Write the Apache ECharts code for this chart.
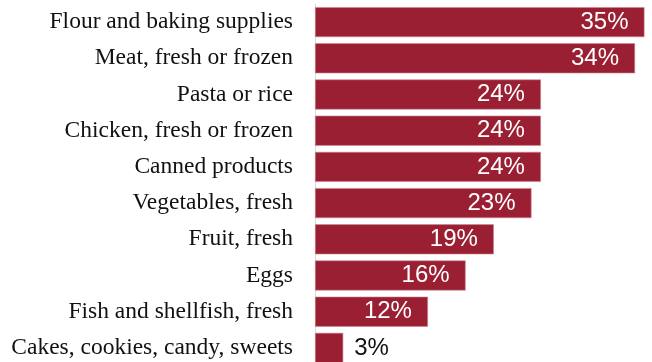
<!DOCTYPE html>
<html>
<head>
<meta charset="utf-8">
<script src="https://cdn.jsdelivr.net/npm/echarts@6/dist/echarts.min.js"></script>
<style>
  html, body { margin: 0; padding: 0; background: #ffffff; overflow: hidden; }
  #chart { width: 652px; height: 380px; }
</style>
</head>
<body>
<div id="chart"></div>
<script>
// Share of shoppers buying more of each product category
const categories = [
  'Flour and baking supplies',
  'Meat, fresh or frozen',
  'Pasta or rice',
  'Chicken, fresh or frozen',
  'Canned products',
  'Vegetables, fresh',
  'Fruit, fresh',
  'Eggs',
  'Fish and shellfish, fresh',
  'Cakes, cookies, candy, sweets'
];
const shares = [35, 34, 24, 24, 24, 23, 19, 16, 12, 3];

const BAR_COLOR = '#9a1f33';

const chart = echarts.init(document.getElementById('chart'), null, { renderer: 'canvas' });

chart.setOption({
  animation: false,
  backgroundColor: '#ffffff',
  // the last row runs off the bottom of the visible area
  grid: { left: 315, right: 0, top: 4, height: 362, containLabel: false },
  xAxis: {
    type: 'value',
    min: 0,
    max: 35.8,
    show: false
  },
  yAxis: {
    type: 'category',
    inverse: true,
    data: categories,
    axisLine: { show: true, lineStyle: { color: '#d9d9d9', width: 1 } },
    axisTick: { show: false },
    axisLabel: {
      margin: 22,
      color: '#111111',
      fontFamily: '"Liberation Serif", "DejaVu Serif", serif',
      fontSize: 23.5
    }
  },
  series: [{
    type: 'bar',
    data: shares.map(function (v) {
      const small = v < 5;
      return {
        value: v,
        label: small
          ? { position: 'right', distance: 11, color: '#111111' }
          : { position: 'insideRight', distance: 16, color: '#ffffff' }
      };
    }),
    barCategoryGap: '17%',
    itemStyle: { color: BAR_COLOR, borderColor: '#c98a94', borderWidth: 0.6 },
    label: {
      show: true,
      formatter: '{c}%',
      fontFamily: '"Liberation Sans", Arial, sans-serif',
      fontSize: 24
    }
  }]
});
</script>
</body>
</html>
